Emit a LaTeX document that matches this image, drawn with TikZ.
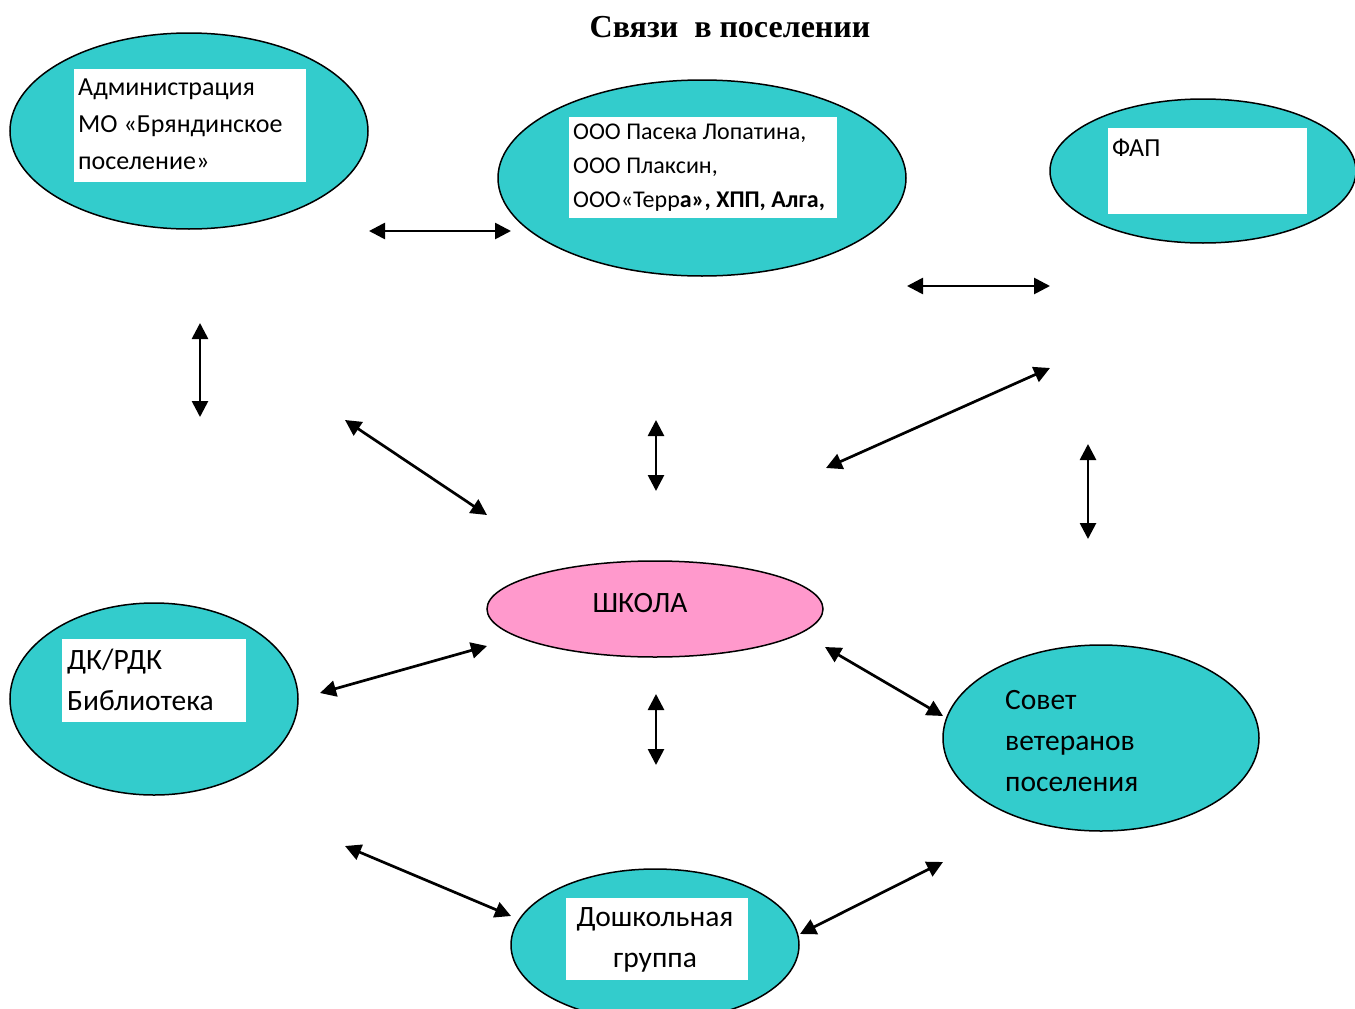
\documentclass[tikz,border=0pt]{standalone}
\usepackage{fontspec}
\setmainfont{Carlito}
\newfontfamily\titlefont{Liberation Serif}
\usetikzlibrary{shapes.geometric,arrows.meta}
\definecolor{OrgClr}{RGB}{51,204,204}
\definecolor{SchoolClr}{RGB}{255,153,204}

\begin{document}
\begin{tikzpicture}[x=1pt,y=-1pt,
  orgell/.style={ellipse,draw=black,line width=1.5pt,fill=OrgClr,inner sep=0pt},
  wbox/.style={fill=white,inner sep=0pt,anchor=north west},
  txt/.style={anchor=north west,align=left,inner sep=0pt,font=\fontsize{26}{37}\selectfont},
  bigtxt/.style={txt,font=\fontsize{29.5}{41}\selectfont},
  link/.style={{Triangle[length=16pt,width=16pt]}-{Triangle[length=16pt,width=16pt]},line width=2.7pt}]
\useasboundingbox (0,0) rectangle (1355,1009);
\clip (0,0) rectangle (1355,1009);

\node[font=\titlefont\bfseries\fontsize{32}{34}\selectfont] (title) at (730,27) {Связи\ \ в поселении};

% organisations
\node[orgell,minimum width=358,minimum height=196] (adm) at (189,131) {};
\node[wbox,minimum width=232,minimum height=113] (admBox) at (74,69) {};
\node[txt] (admTxt) at (78,79) {Администрация\\МО «Бряндинское\\поселение»};

\node[orgell,minimum width=408,minimum height=196] (ooo) at (702,178) {};
\node[wbox,minimum width=268,minimum height=101] (oooBox) at (569,117) {};
\node[txt,font=\fontsize{24}{34}\selectfont] (oooTxt) at (573,123.5) {ООО Пасека Лопатина,\\ООО Плаксин,\\ООО«Терр\textbf{а», ХПП, Алга,}};

\node[orgell,minimum width=306,minimum height=144] (fap) at (1203,171) {};
\node[wbox,minimum width=199,minimum height=86] (fapBox) at (1108,128) {};
\node[txt] (fapTxt) at (1112,139) {ФАП};

\node[orgell,fill=SchoolClr,minimum width=336,minimum height=96] (school) at (655,609) {};
\node[font=\fontsize{29.5}{32}\selectfont] (schoolTxt) at (640,603) {ШКОЛА};

\node[orgell,minimum width=288,minimum height=192] (dk) at (154,699) {};
\node[wbox,minimum width=184,minimum height=83] (dkBox) at (62,639) {};
\node[bigtxt] (dkTxt) at (67,649) {ДК/РДК\\Библиотека};

\node[orgell,minimum width=316,minimum height=186] (vet) at (1101,738) {};
\node[bigtxt] (vetTxt) at (1005,690) {Совет\\ветеранов\\поселения};

\node[orgell,minimum width=288,minimum height=152] (dou) at (655,945) {};
\node[wbox,minimum width=182,minimum height=82] (douBox) at (566,898) {};
\node[bigtxt,anchor=north,align=center] (douTxt) at (655,907) {Дошкольная\\группа};

% links
\coordinate (l1a) at (369,231);  \coordinate (l1b) at (511,231);
\coordinate (l2a) at (907,286);  \coordinate (l2b) at (1050,286);
\coordinate (l3a) at (200,323);  \coordinate (l3b) at (200,417);
\coordinate (l4a) at (345,420);  \coordinate (l4b) at (487,515);
\coordinate (l5a) at (656,420);  \coordinate (l5b) at (656,491);
\coordinate (l6a) at (826,468);  \coordinate (l6b) at (1050,368);
\coordinate (l7a) at (1088,444); \coordinate (l7b) at (1088,539);
\coordinate (l8a) at (320,693);  \coordinate (l8b) at (487,646);
\coordinate (l9a) at (656,694);  \coordinate (l9b) at (656,765);
\coordinate (l10a) at (825,647); \coordinate (l10b) at (943,716);
\coordinate (l11a) at (345,846); \coordinate (l11b) at (511,916);
\coordinate (l12a) at (800,934); \coordinate (l12b) at (943,862);

\draw[link] (l1a) -- (l1b);
\draw[link] (l2a) -- (l2b);
\draw[link] (l3a) -- (l3b);
\draw[link] (l4a) -- (l4b);
\draw[link] (l5a) -- (l5b);
\draw[link] (l6a) -- (l6b);
\draw[link] (l7a) -- (l7b);
\draw[link] (l8a) -- (l8b);
\draw[link] (l9a) -- (l9b);
\draw[link] (l10a) -- (l10b);
\draw[link] (l11a) -- (l11b);
\draw[link] (l12a) -- (l12b);

\end{tikzpicture}
\end{document}
